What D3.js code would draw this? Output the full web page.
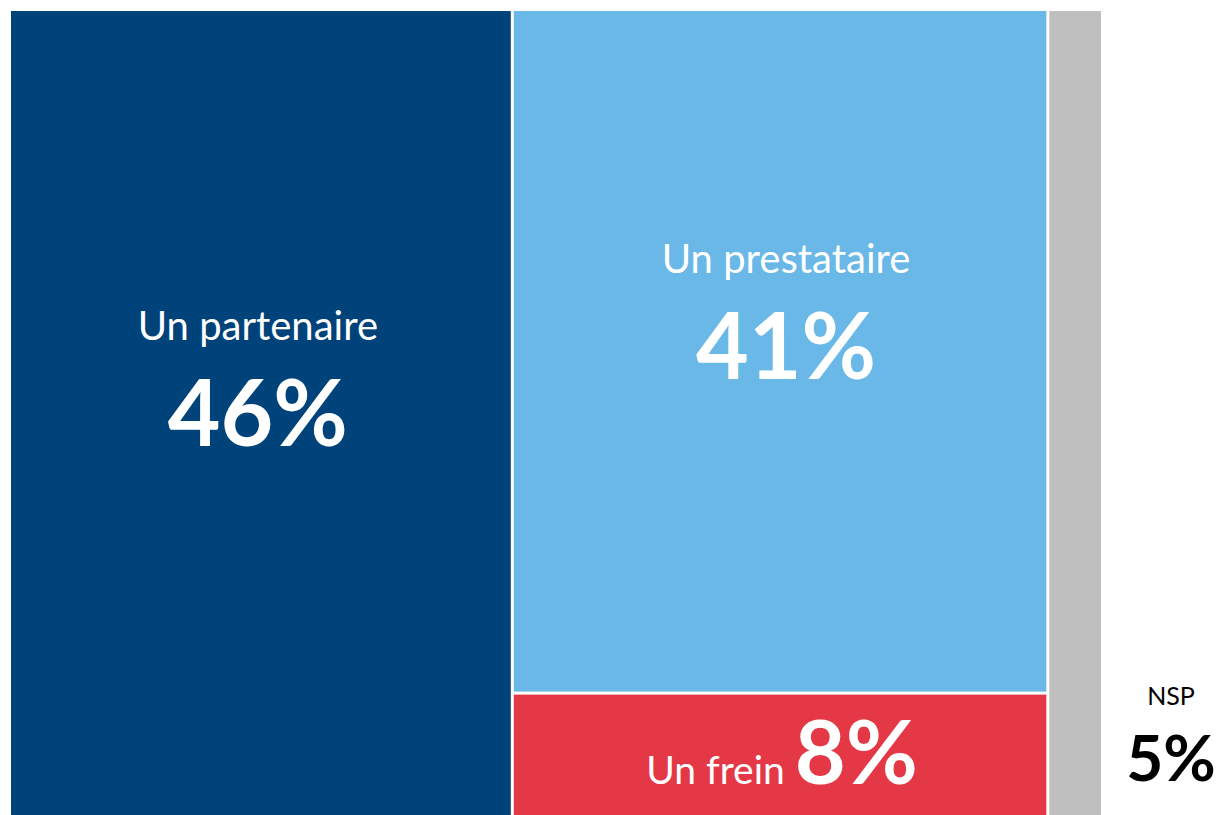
<!DOCTYPE html>
<html>
<head>
<meta charset="utf-8">
<script src="https://cdn.jsdelivr.net/npm/d3@7"></script>
<style>
  html, body { margin: 0; padding: 0; background: #fff; }
  svg { display: block; }
  text { font-family: Lato, "Open Sans", sans-serif; }
</style>
</head>
<body>
<div class="chart"></div>
<script>
// data
var labels = ['Un partenaire', 'Un prestataire', 'Un frein', 'NSP'];
var values = [46, 41, 8, 5];
var groups = ['partenaire', 'acteur', 'acteur', 'nsp']; // prestataire + frein share a column
var colors = ['#00437a', '#6ab8e8', '#e53846', '#bfbfbf'];

var W = 1217, H = 815;
var m = {top: 11, left: 11};
var tw = 1090, th = 814;

var svg = d3.select('.chart').append('svg')
	.attr('width', W)
	.attr('height', H);

/*------------------------- BUILD HIERARCHY -------------------------*/

var items = labels.map(function(l, i){
	return {name: l, value: values[i], group: groups[i], color: colors[i], idx: i};
});

var root = {name: 'root', children: []};
items.forEach(function(d){
	var g = root.children.find(function(c){ return c.name === d.group; });
	if (!g){
		g = {name: d.group, children: []};
		root.children.push(g);
	}
	g.children.push(d);
});

var hier = d3.hierarchy(root)
	.sum(function(d){ return d.children ? 0 : d.value; });

d3.treemap()
	.tile(d3.treemapSliceDice)
	.size([tw, th])
	.paddingInner(3)
	.round(false)(hier);

var g = svg.append('g')
	.attr('transform', 'translate(' + m.left + ',' + m.top + ')');

var leaves = hier.leaves();

g.selectAll('rect.cell').data(leaves)
	.enter()
	.append('rect')
	.attr('class', 'cell')
	.attr('x', function(d){ return d.x0; })
	.attr('y', function(d){ return d.y0; })
	.attr('width', function(d){ return d.x1 - d.x0; })
	.attr('height', function(d){ return d.y1 - d.y0; })
	.attr('fill', function(d){ return d.data.color; });

/*------------------------- LABELS -------------------------*/

var nudge = [-3, 6]; // small horizontal shift of the centered labels

leaves.forEach(function(d){
	var cx = (d.x0 + d.x1) / 2;
	var cy = (d.y0 + d.y1) / 2;
	var pct = d.data.value + '%';

	if (d.data.idx < 2){
		// stacked label + big value, centered in the cell
		g.append('text')
			.attr('x', cx + nudge[d.data.idx])
			.attr('y', cy - 78)
			.attr('text-anchor', 'middle')
			.attr('fill', '#fff')
			.style('font-size', '40px')
			.text(d.data.name);
		g.append('text')
			.attr('x', cx + nudge[d.data.idx])
			.attr('y', cy + 28)
			.attr('text-anchor', 'middle')
			.attr('fill', '#fff')
			.style('font-size', '91px')
			.style('font-weight', 'bold')
			.text(pct);
	} else if (d.data.idx === 2){
		// single line at the bottom of a short cell
		var t = g.append('text')
			.attr('x', cx + 2)
			.attr('y', d.y0 + 89)
			.attr('text-anchor', 'middle')
			.attr('fill', '#fff');
		t.append('tspan')
			.style('font-size', '39px')
			.text(d.data.name + ' ');
		t.append('tspan')
			.style('font-size', '88px')
			.style('font-weight', 'bold')
			.text(pct);
	} else {
		// too thin: label sits outside, to the right
		var ox = d.x1 + 70;
		g.append('text')
			.attr('x', ox)
			.attr('y', 694)
			.attr('text-anchor', 'middle')
			.attr('fill', '#000')
			.style('font-size', '25px')
			.text(d.data.name);
		g.append('text')
			.attr('x', ox)
			.attr('y', 770)
			.attr('text-anchor', 'middle')
			.attr('fill', '#000')
			.style('font-size', '64px')
			.style('font-weight', 'bold')
			.text(pct);
	}
});
</script>
</body>
</html>
